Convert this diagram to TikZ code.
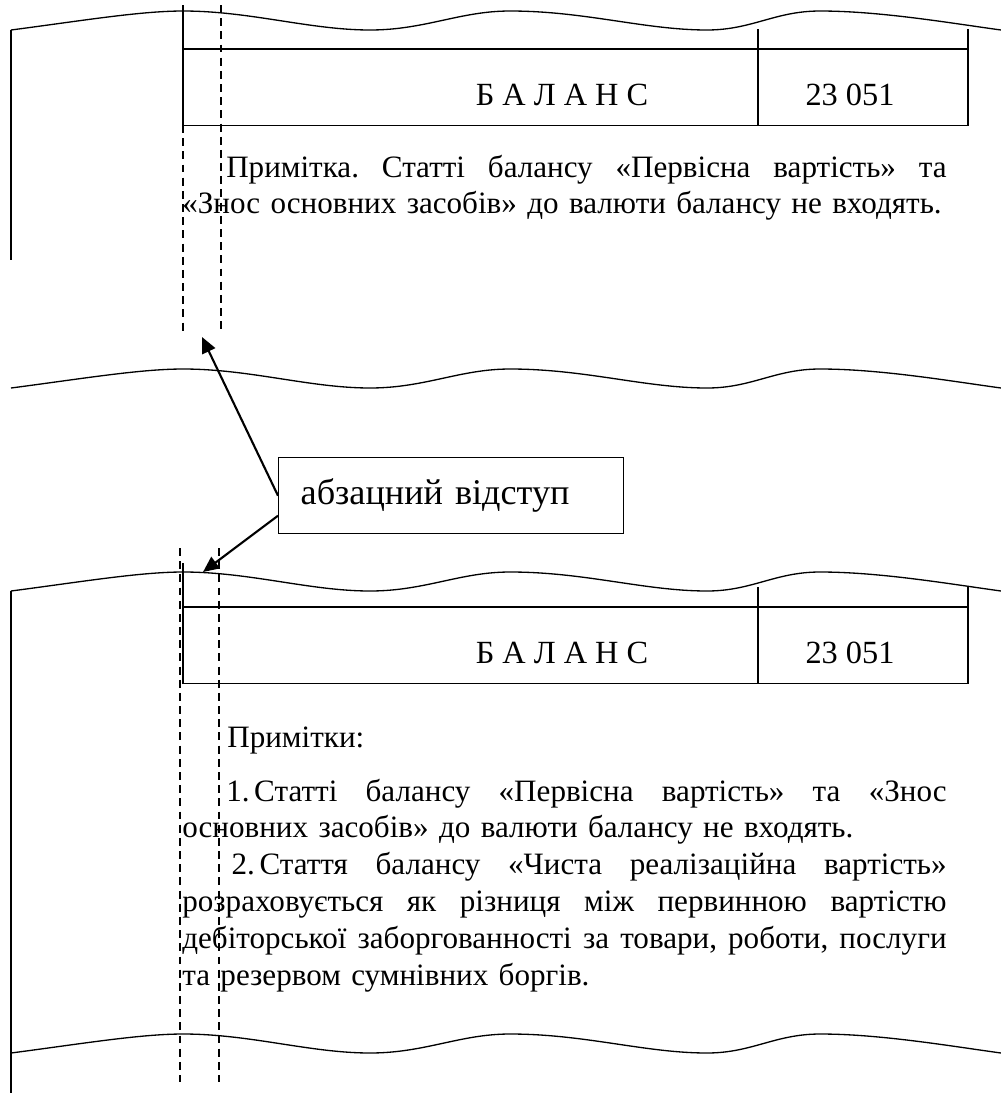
\documentclass[tikz,border=0pt]{standalone}
\usepackage{fontspec}
\setmainfont{Liberation Serif}
\usetikzlibrary{arrows.meta,calc}

\newlength{\notew}\setlength{\notew}{435pt}
\newlength{\noteind}\setlength{\noteind}{25pt}
% one justified line of the note, indented by #1
\newcommand{\jline}[2]{\hspace*{#1}\hbox to \dimexpr\notew-#1\relax{%
    \frenchspacing\spaceskip=0.25em plus 1fil\relax #2}}

% torn edge of the page, moved down by #1
\newcommand{\tornedge}[1]{%
  \begin{scope}[shift={(0,#1)}]
    \draw[edge] (11,30) .. controls (80,21) and (140,11) .. (183,11)
      .. controls (250,11) and (310,30) .. (370,30)
      .. controls (425,30) and (460,11) .. (510,11)
      .. controls (585,11) and (645,30) .. (707,30)
      .. controls (752,30) and (775,11) .. (820,11)
      .. controls (880,11) and (950,23) .. (1001,30);
  \end{scope}}

% the balance row of the table, moved down by #1, names end in #2
\newcommand{\balancerow}[2]{%
  \begin{scope}[shift={(0,#1)}]
    \draw[rule] (183,5) -- (183,125.5);
    \draw[rule] (183,49) -- (968,49);
    \draw[rule] (183,125.5) -- (968,125.5);
    \draw[rule] (758,29) -- (758,125.5);
    \draw[rule] (968,29) -- (968,125.5);
    \node[cell, anchor=base] (title#2) at (562,105) {Б А Л А Н С};
    \node[cell, anchor=base] (sum#2) at (850,105) {23 051};
  \end{scope}}

\begin{document}
\begin{tikzpicture}[x=0.02cm, y=-0.02cm,
    edge/.style={line width=0.75pt},
    rule/.style={line width=0.85pt},
    guide/.style={line width=0.7pt, dash pattern=on 4.5pt off 3pt},
    pointer/.style={-{Triangle[length=9pt,width=8pt]}, line width=1.2pt},
    cell/.style={font=\fontsize{18.4}{21}\selectfont, inner sep=0pt},
    txt/.style={font=\fontsize{17.7}{21}\selectfont, inner sep=0pt},
    note/.style={txt, anchor=base west, text width=\notew, align=left}]
    \useasboundingbox (0,0) rectangle (1001,1093);

    % upper sample
    \tornedge{0}
    \draw[edge] (11,30) -- (11,260);
    \balancerow{0}{1}
    \node[note] (note1) at (182,177) {%
        \jline{\noteind}{Примітка. Статті балансу «Первісна вартість» та}\\
        \mbox{«Знос основних засобів» до валюти балансу не входять.}};
    \draw[guide] (183,125) -- (183,333);
    \draw[guide] (221,5) -- (221,333);
    \coordinate (upmark) at (202,337);

    \tornedge{358}

    % label
    \node[draw, line width=0.8pt, anchor=north west, font=\fontsize{20.6}{24}\selectfont,
        minimum height=76*0.02cm, text width=301*0.02cm, inner xsep=22*0.02cm, align=left]
        (indentbox) at (278,457) {абзацний відступ};
    \coordinate (downmark) at (203,572);
    \draw[pointer] (indentbox.west) -- (upmark);
    \draw[pointer] ($(indentbox.west)+(0,20)$) -- (downmark);

    % lower sample
    \tornedge{561}
    \draw[edge] (11,591) -- (11,1093);
    \balancerow{558}{2}
    \node[txt, anchor=base west] (head2) at (227,747) {Примітки:};
    \node[note] (note2) at (182,801) {%
        \jline{\noteind}{1.\hspace{0.15em}Статті балансу «Первісна вартість» та «Знос}\\
        основних засобів» до валюти балансу не входять.\\
        \jline{28pt}{2.\hspace{0.15em}Стаття балансу «Чиста реалізаційна вартість»}\\
        \jline{0pt}{розраховується як різниця між первинною вартістю}\\
        \jline{0pt}{дебіторської заборгованності за товари, роботи, послуги}\\
        та резервом сумнівних боргів.};
    \draw[guide] (180,548) -- (180,1082);
    \draw[guide] (219,548) -- (219,1082);

    \tornedge{1023}
\end{tikzpicture}
\end{document}
